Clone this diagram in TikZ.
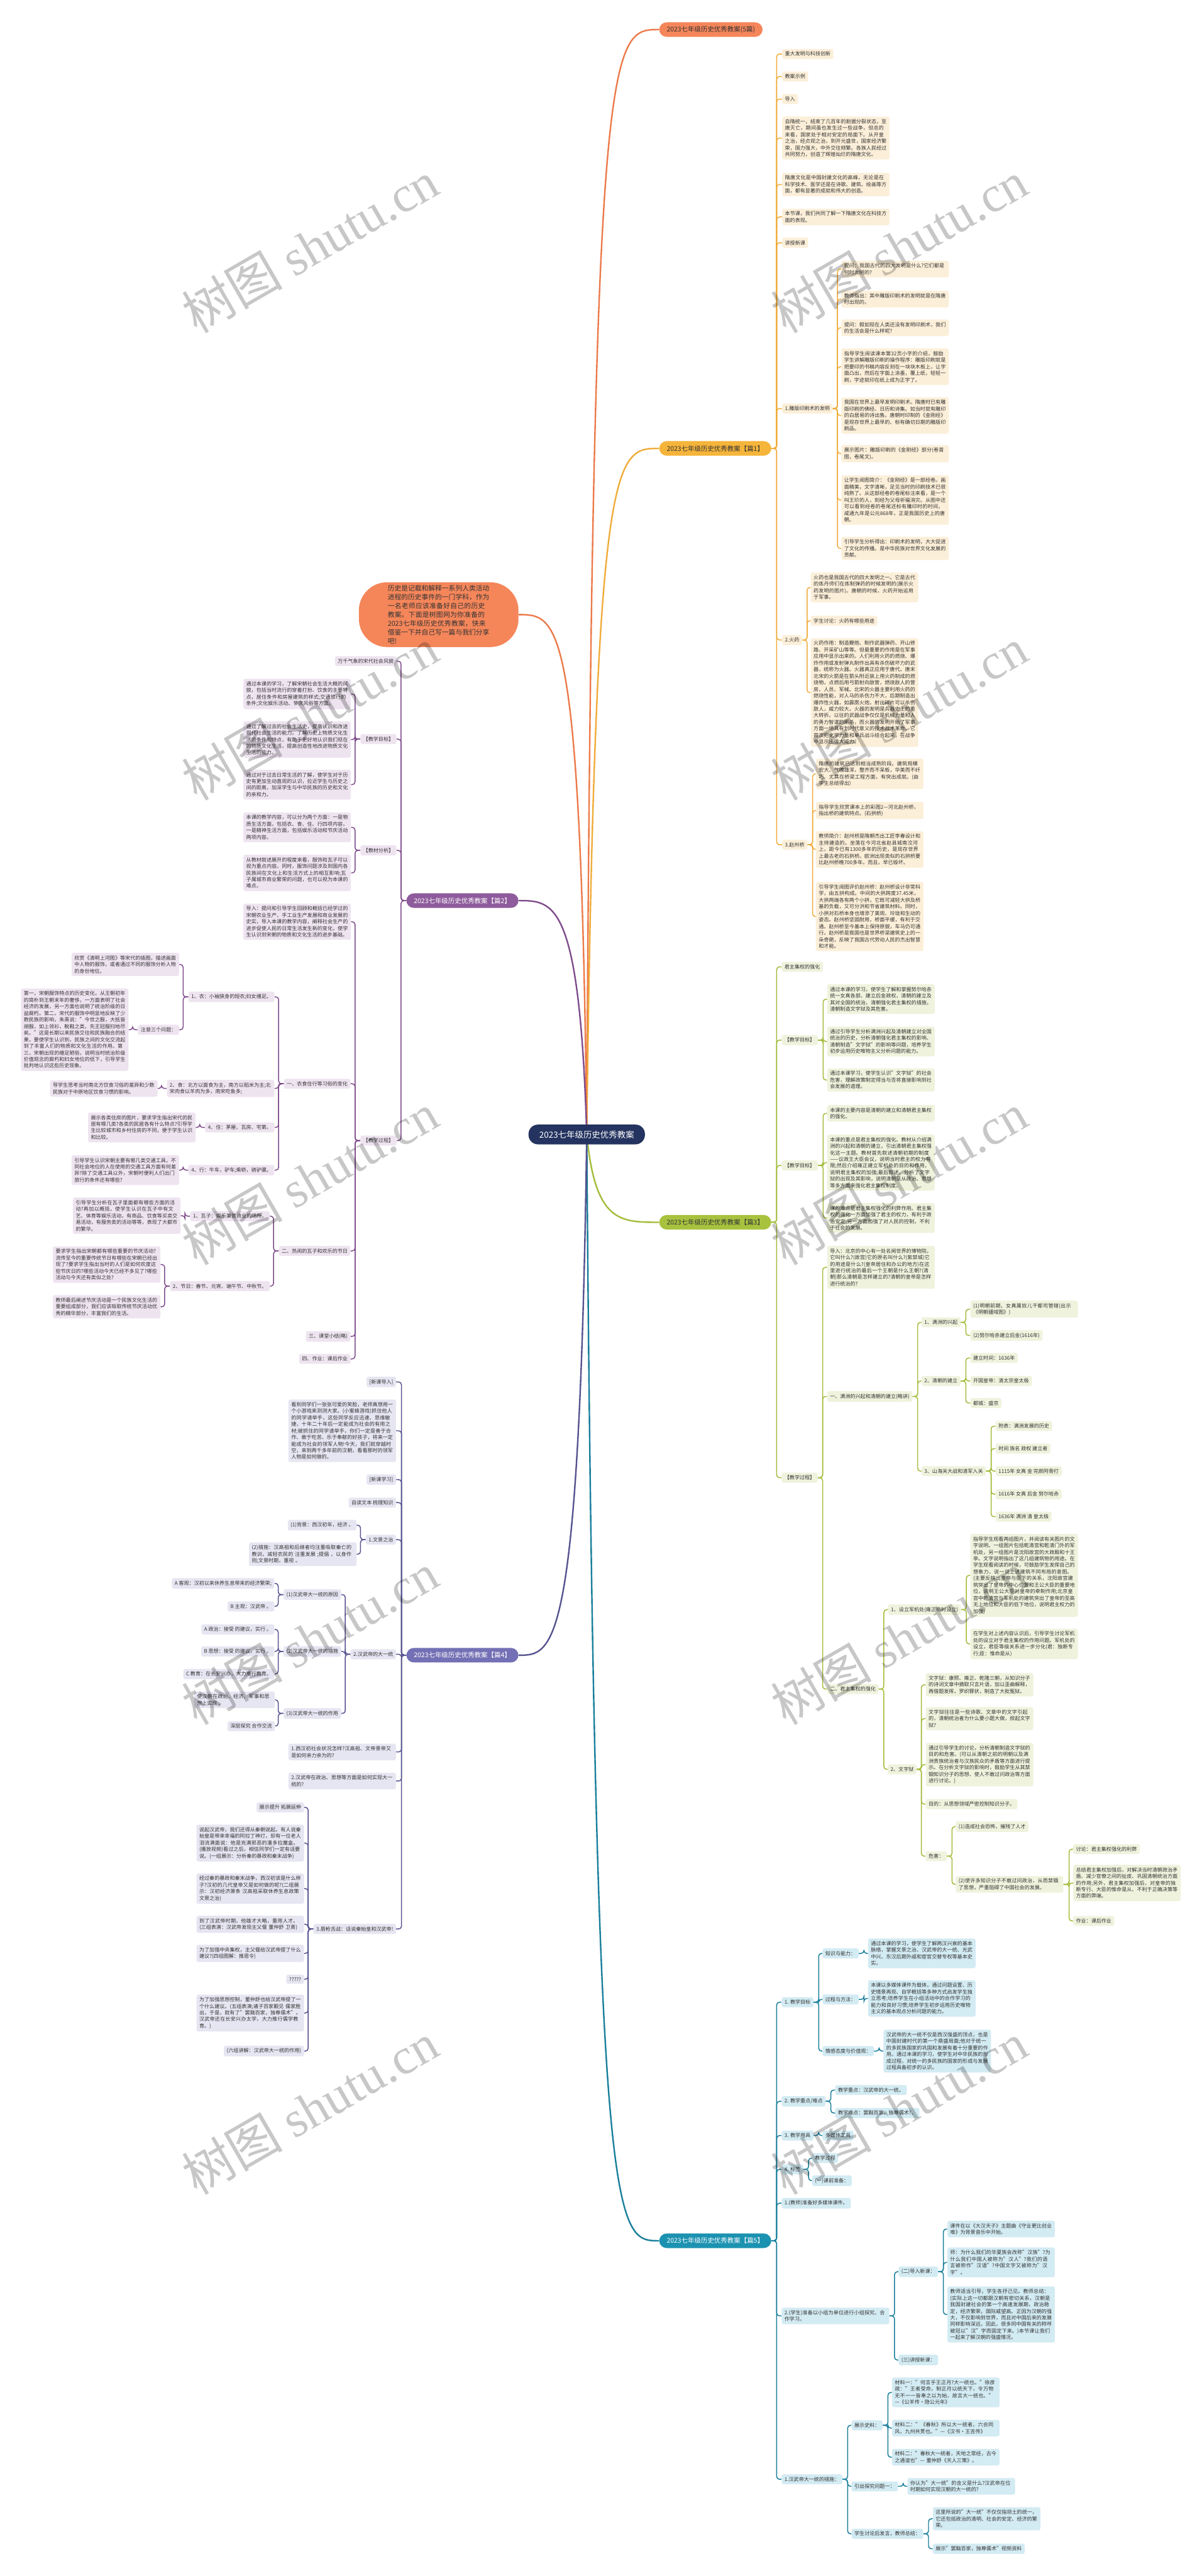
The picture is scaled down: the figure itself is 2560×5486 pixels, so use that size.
\documentclass[tikz,border=0pt]{standalone}
\usepackage{fontspec}
\setmainfont{Noto Sans CJK SC}
\newfontfamily\wmfont{Liberation Serif}
\XeTeXlinebreaklocale "zh"
\XeTeXlinebreakskip=0pt plus 0.6pt
\definecolor{txt}{HTML}{333333}
\definecolor{rootc}{HTML}{24335F}
\definecolor{coralF}{HTML}{F5865A}
\definecolor{coralL}{HTML}{EC7A4A}
\definecolor{goldF}{HTML}{F5B43A}
\definecolor{goldL}{HTML}{F0AC3A}
\definecolor{goldB}{HTML}{FCEFD9}
\definecolor{purF}{HTML}{8E5B9C}
\definecolor{purL}{HTML}{7E4C8B}
\definecolor{purB}{HTML}{EEE4F0}
\definecolor{limF}{HTML}{A8C23E}
\definecolor{limL}{HTML}{A2BC3A}
\definecolor{limB}{HTML}{EFF3DD}
\definecolor{slaF}{HTML}{7470B5}
\definecolor{slaL}{HTML}{57538F}
\definecolor{slaB}{HTML}{E6E5F2}
\definecolor{teaF}{HTML}{1C92B1}
\definecolor{teaL}{HTML}{197F9B}
\definecolor{teaB}{HTML}{D3EBF3}
\pgfdeclarelayer{back}
\pgfdeclarelayer{links}
\pgfsetlayers{back,links,main}
\newcommand\linkR[4][11]{\draw[#2] (#3.east) -- ++(#1,0) |- (#4.west);}
\newcommand\linkL[4][11]{\draw[#2] (#3.west) -- ++(-#1,0) |- (#4.east);}
\tikzset{
  bx/.style={inner xsep=3pt, inner ysep=2.8pt, rounded corners=2pt, font=\fontsize{5.4pt}{7pt}\selectfont, text=txt, align=left},
  tw/.style={text width=#1},
  tw/.default=108.5pt,
  gb/.style={bx, fill=goldB}, pb/.style={bx, fill=purB}, lb/.style={bx, fill=limB},
  sb/.style={bx, fill=slaB}, tb/.style={bx, fill=teaB},
  rn/.style={anchor=west}, ln/.style={anchor=east},
  pill/.style={rounded corners=8pt, minimum height=15.5pt, inner xsep=8pt, font=\fontsize{7pt}{8pt}\selectfont, text=txt},
  gl/.style={draw=goldL, line width=1pt, rounded corners=3pt},
  pl/.style={draw=purL, line width=1pt, rounded corners=3pt},
  ll/.style={draw=limL, line width=1pt, rounded corners=3pt},
  sl/.style={draw=slaL, line width=1pt, rounded corners=3pt},
  tl/.style={draw=teaL, line width=1pt, rounded corners=3pt},
  wm/.style={rotate=30, text=black, text opacity=0.22, font=\fontsize{54pt}{54pt}\selectfont},
}
\begin{document}
\begin{tikzpicture}[x=0.5pt,y=-0.5pt]
\begin{pgfonlayer}{back}
\fill[white] (0,0) rectangle (2560,5486);
\end{pgfonlayer}
\useasboundingbox (0,0) rectangle (2560,5486);
% ---------------- root ----------------
\node[fill=rootc, text=white, rounded corners=10pt, minimum height=21pt, minimum width=124pt, font=\fontsize{9pt}{10pt}\selectfont] (root) at (1250,2416) {2023七年级历史优秀教案};
% ---------------- 5 pian title ----------------
\node[pill, fill=coralF, rn] (p0) at (1404,63) {2023七年级历史优秀教案(5篇)};
% ---------------- intro ----------------
\node[ln, fill=coralF, rounded corners=30pt, minimum height=62pt, minimum width=170pt, text width=108.5pt, align=left, font=\fontsize{7.2pt}{9.3pt}\selectfont, text=txt] (intro) at (1105,1309) {历史是记载和解释一系列人类活动进程的历史事件的一门学科，作为一名老师应该准备好自己的历史教案。下面是树图网为你准备的2023七年级历史优秀教案，快来借鉴一下并自己写一篇与我们分享吧!};
% ================= pian 1 (gold) =================
\node[pill, fill=goldF, rn] (p1) at (1404,955) {2023七年级历史优秀教案【篇1】};
\node[gb,rn] (a1) at (1666,115) {重大发明与科技创新};
\node[gb,rn] (a2) at (1666,163) {教案示例};
\node[gb,rn] (a3) at (1666,211) {导入};
\node[gb,rn,tw] (a4) at (1666,294) {自隋统一，结束了几百年的割据分裂状态，至唐灭亡，期间虽也发生过一些战争，但总的来看，国家处于相对安定的局面下。从开皇之治，经贞观之治，到开元盛世，国家经济繁荣，国力强大，中外交往频繁。各族人民经过共同努力，创造了辉煌灿烂的隋唐文化。};
\node[gb,rn,tw] (a5) at (1666,393) {隋唐文化是中国封建文化的高峰，无论是在科学技术、医学还是在诗歌、建筑、绘画等方面，都有显著的成就和伟大的创造。};
\node[gb,rn,tw] (a6) at (1666,462) {本节课，我们共同了解一下隋唐文化在科技方面的表现。};
\node[gb,rn] (a7) at (1666,517) {讲授新课};
\node[gb,rn] (a8) at (1666,870) {1.雕版印刷术的发明};
\node[gb,rn,tw] (b1) at (1792,573) {提问：我国古代的四大发明是什么?它们都是何时发明的?};
\node[gb,rn,tw] (b2) at (1792,637) {教师指出：其中雕版印刷术的发明就是在隋唐时出现的。};
\node[gb,rn,tw] (b3) at (1792,698) {提问：假如现在人类还没有发明印刷术，我们的生活会是什么样呢?};
\node[gb,rn,tw] (b4) at (1792,781) {指导学生阅读课本第32页小字的介绍，鼓励学生讲解雕版印刷的操作程序：雕版印刷就是把要印的书稿内容反刻在一块块木板上，让字面凸出，然后在字面上涂墨，覆上纸，轻轻一刷，字迹就印在纸上成为正字了。};
\node[gb,rn,tw] (b5) at (1792,885) {我国在世界上最早发明印刷术。隋唐时已有雕版印刷的佛经、日历和诗集。如当时就有雕印的白居易的诗出售。唐朝时印制的《金刚经》是现存世界上最早的、标有确切日期的雕版印刷品。};
\node[gb,rn,tw] (b6) at (1792,966) {展示图片：雕版印刷的《金刚经》部分(卷首图，卷尾文)。};
\node[gb,rn,tw] (b7) at (1792,1065) {让学生阅图简介：《金刚经》是一部经卷。画面精美，文字清晰，足见当时的印刷技术已很纯熟了。从这部经卷的卷尾标注来看，是一个叫王玠的人，刻经为父母祈福消灾。从图中还可以看到经卷的卷尾还标有雕印时的时间，咸通九年是公元868年，正是我国历史上的唐朝。};
\node[gb,rn,tw] (b8) at (1792,1168) {引导学生分析得出：印刷术的发明，大大促进了文化的传播。是中华民族对世界文化发展的贡献。};
\node[gb,rn] (a9) at (1666,1363) {2.火药};
\node[gb,rn,tw] (c1) at (1727,1251) {火药也是我国古代的四大发明之一。它是古代的炼丹师们在炼制弹药的时候发明的(展示火药发明的图片)。唐朝的时候，火药开始运用于军事。};
\node[gb,rn] (c2) at (1727,1322) {学生讨论：火药有哪些用途};
\node[gb,rn,tw] (c3) at (1727,1475) {火药作用：制造鞭炮、制作武器弹药、开山修路、开采矿山等等。但最重要的作用是在军事应用中显示出来的。人们利用火药的燃烧、爆炸作用或发射弹丸制作出具有杀伤破坏力的武器，统称为火器。火器真正应用于唐代。唐末北宋的火箭是在箭头附近装上用火药制成的燃烧物，点燃后用弓箭射向敌营，燃烧敌人的营房、人员、军械。北宋的火器主要利用火药的燃烧性能，对人马的杀伤力不大，后期制造出爆炸性火器，如霹雳火炮，射出碎片可以杀伤敌人，威力较大。火器的发明是兵器史上的重大转折。以往的武器战争仅仅是机械力量和人的勇力智谋的厮杀，而火器的发明开始了军事方面一场具有划时代意义的技术战术革命。它首次把化学力量和单兵战斗结合起来，在战争中显示出强大威力。};
\node[gb,rn] (a10) at (1666,1799) {3.赵州桥};
\node[gb,rn,tw] (d1) at (1738,1648) {隋唐的建筑已达到相当成熟阶段。建筑规模宏大、气魄雄浑，整齐而不呆板，华美而不纤巧。尤其在桥梁工程方面，有突出成就。(由学生总结得出)};
\node[gb,rn,tw] (d2) at (1738,1726) {指导学生欣赏课本上的彩图2—河北赵州桥，指出桥的建筑特点。(石拱桥)};
\node[gb,rn,tw] (d3) at (1738,1809) {教师简介：赵州桥是隋朝杰出工匠李春设计和主持建造的。坐落在今河北省赵县城南洨河上，距今已有1300多年的历史，是现存世界上最古老的石拱桥。欧洲出现类似的石拱桥要比赵州桥晚700多年。而且，早已毁坏。};
\node[gb,rn,tw] (d4) at (1738,1952) {引导学生阅图评价赵州桥：赵州桥设计非常科学，由五拱构成。中间的大拱跨度37.45米，大拱两端各有两个小拱，它既可减轻大拱及桥基的负载，又可分洪和节省建筑材料。同时，小拱对石桥本身也增添了美观、玲珑和生动的姿态。赵州桥坚固耐用，桥面平缓，有利于交通。赵州桥至今基本上保持原貌，车马仍可通行。赵州桥是我国也是世界桥梁建筑史上的一朵奇葩，反映了我国古代劳动人民的杰出智慧和才能。};
% ================= pian 3 (lime) =================
\node[pill, fill=limF, rn] (p3) at (1404,2603) {2023七年级历史优秀教案【篇3】};
\node[lb,rn] (e1) at (1665,2059) {君主集权的强化};
\node[lb,rn] (e2) at (1665,2215) {【教学目标】};
\node[lb,rn,tw] (e2a) at (1762,2128) {通过本课的学习，使学生了解和掌握努尔哈赤统一女真各部、建立后金政权，清朝的建立及其对全国的统治，清朝强化君主集权的措施，清朝制造文字狱及其危害。};
\node[lb,rn,tw] (e2b) at (1762,2218) {通过引导学生分析满洲兴起及清朝建立对全国统治的历史，分析清朝强化君主集权的影响、清朝制造"文字狱"的影响等问题，培养学生初步运用历史唯物主义分析问题的能力。};
\node[lb,rn,tw] (e2c) at (1762,2300) {通过本课学习，使学生认识"文字狱"的社会危害，理解政策制定得当与否将直接影响到社会发展的道理。};
\node[lb,rn] (e3) at (1665,2482) {【教学目标】};
\node[lb,rn,tw] (e3a) at (1762,2371) {本课的主要内容是清朝的建立和清朝君主集权的强化。};
\node[lb,rn,tw] (e3b) at (1762,2476) {本课的重点是君主集权的强化。教材从介绍满洲的兴起和清朝的建立，引出清朝君主集权强化这一主题。教材首先叙述清朝初期的制度——议政王大臣会议，说明当时君主的权力有限;然后介绍雍正建立军机处的目的和作用，说明君主集权的加强;最后叙述、分析了文字狱的出现及其影响，说明清朝是从政治、思想等多方面来强化君主集权制度。};
\node[lb,rn,tw] (e3c) at (1762,2594) {课的难点是君主集权强化的利弊作用。君主集权的强化一方面加强了君主的权力，有利于政治安定;另一方面加强了对人民的控制，不利于社会的发展。};
\node[lb,rn] (e4) at (1665,3147) {【教学过程】};
\node[lb,rn,tw] (f1) at (1762,2699) {导入：北京的中心有一处名闻世界的博物院，它叫什么?(故宫)它的原名叫什么?(紫禁城)它的用途是什么?(皇帝居住和办公的地方)在这里进行统治的最后一个王朝是什么王朝?(清朝)那么清朝是怎样建立的?清朝的皇帝是怎样进行统治的?};
\node[lb,rn] (f2) at (1762,2974) {一、满洲的兴起和清朝的建立(略讲)};
\node[lb,rn] (g1) at (1963,2816) {1、满洲的兴起};
\node[lb,rn,tw] (h1) at (2067,2788) {(1)明朝前期，女真属奴儿干都司管辖(出示《明朝疆域图》)};
\node[lb,rn] (h2) at (2067,2844) {(2)努尔哈赤建立后金(1616年)};
\node[lb,rn] (g2) at (1963,2941) {2、清朝的建立};
\node[lb,rn] (h3) at (2067,2892) {建立时间：1636年};
\node[lb,rn] (h4) at (2067,2941) {开国皇帝：清太宗皇太极};
\node[lb,rn] (h5) at (2067,2988) {都城：盛京};
\node[lb,rn] (g3) at (1963,3133) {3、山海关大战和清军入关};
\node[lb,rn] (h6) at (2121,3037) {附表：满洲发展的历史};
\node[lb,rn] (h7) at (2121,3085) {时间 族名 政权 建立者};
\node[lb,rn] (h8) at (2121,3133) {1115年 女真 金 完颜阿骨打};
\node[lb,rn] (h9) at (2121,3182) {1616年 女真 后金 努尔哈赤};
\node[lb,rn] (h10) at (2121,3230) {1636年 满洲 清 皇太极};
\node[lb,rn] (f3) at (1762,3597) {二、君主集权的强化};
\node[lb,rn] (g4) at (1892,3428) {1、设立军机处(雍正帝时设立)};
\node[lb,rn,tw] (h11) at (2067,3355) {指导学生观看两组图片，并阅读有关图片的文字说明。一组图片包括乾清宫和乾清门外的军机处，另一组图片是沈阳故宫的大政殿和十王亭。文字说明指出了这几组建筑物的用途。在学生观看阅读的时候，可鼓励学生发挥自己的想象力，说一说上述建筑不同布局的意图。(主要反映出皇帝与臣下的关系，沈阳故宫建筑突出了皇帝的中心位置和王公大臣的重要地位，说明王公大臣对皇帝的牵制作用;北京皇宫中乾清宫与军机处的建筑突出了皇帝的至高无上地位和大臣的低下地位，说明君主权力的加强)};
\node[lb,rn,tw] (h12) at (2067,3501) {在学生对上述内容认识后，引导学生讨论军机处的设立对于君主集权的作用问题。军机处的设立，君臣等级关系进一步分化(君：独断专行;臣：惟命是从)};
\node[lb,rn] (g5) at (1891,3768) {2、文字狱};
\node[lb,rn,tw] (h13) at (1972,3588) {文字狱：康熙、雍正、乾隆三朝，从知识分子的诗词文章中摘取只言片语，加以歪曲解释，再借题发挥，罗织罪状，制造了大批冤狱。};
\node[lb,rn,tw] (h14) at (1972,3660) {文字狱往往是一些诗歌、文章中的文字引起的，清朝统治者为什么要小题大做，掀起文字狱?};
\node[lb,rn,tw] (h15) at (1972,3758) {通过引导学生的讨论，分析清朝制造文字狱的目的和危害。(可以从清朝之前的明朝以及满洲贵族统治者与汉族民众的矛盾等方面进行提示。在分析文字狱的影响时，鼓励学生从其禁锢知识分子的思想、使人不敢过问政治等方面进行讨论。)};
\node[lb,rn] (h16) at (1972,3842) {目的：从思想领域严密控制知识分子。};
\node[lb,rn] (h17) at (1972,3953) {危害：};
\node[lb,rn] (h18) at (2036,3890) {(1)造成社会恐怖，摧残了人才};
\node[lb,rn,tw] (h19) at (2036,4013) {(2)使许多知识分子不敢过问政治，从而禁锢了思想，严重阻碍了中国社会的发展。};
\node[lb,rn] (h20) at (2286,3938) {讨论：君主集权强化的利弊};
\node[lb,rn,tw] (h21) at (2286,4010) {总结君主集权加强后，对解决当时清朝政治矛盾、减少官僚之间的扯皮、巩固清朝统治方面的作用;另外，君主集权加强后，对皇帝的独断专行、大臣的惟命是从、不利于正确决策等方面的弊端。};
\node[lb,rn] (h22) at (2286,4091) {作业：课后作业};
% ================= pian 5 (teal) =================
\node[pill, fill=teaF, text=white, rn] (p5) at (1404,4772) {2023七年级历史优秀教案【篇5】};
\node[tb,rn] (i1) at (1665,4264) {1. 教学目标};
\node[tb,rn] (i1a) at (1752,4160) {知识与能力：};
\node[tb,rn,tw] (i1b) at (1849,4160) {通过本课的学习，使学生了解两汉兴衰的基本脉络，掌握文景之治、汉武帝的大一统、光武中兴、东汉后期外戚和宦官交替专权等基本史实。};
\node[tb,rn] (i1c) at (1752,4258) {过程与方法：};
\node[tb,rn,tw] (i1d) at (1849,4256) {本课以多媒体课件为载体，通过问题设置、历史情景再现、自学概括等多种方式启发学生独立思考;培养学生在小组活动中的合作学习的能力和良好习惯;培养学生初步运用历史唯物主义的基本观点分析问题的能力。};
\node[tb,rn] (i1e) at (1752,4368) {情感态度与价值观：};
\node[tb,rn,tw] (i1f) at (1882,4368) {汉武帝的大一统不仅是西汉强盛的顶点，也是中国封建时代的第一个鼎盛局面;他对于统一的多民族国家的巩固和发展有着十分重要的作用。通过本课的学习，使学生对中华民族的形成过程，对统一的多民族的国家的形成与发展过程具备初步的认识。};
\node[tb,rn] (i2) at (1665,4475) {2. 教学重点/难点};
\node[tb,rn] (i2a) at (1779,4451) {教学重点：汉武帝的大一统。};
\node[tb,rn] (i2b) at (1779,4500) {教学难点：罢黜百家，独尊儒术?。};
\node[tb,rn] (i3) at (1665,4548) {3. 教学用具};
\node[tb,rn] (i3a) at (1752,4548) {多媒体工具};
\node[tb,rn] (i4) at (1665,4620) {4. 标签};
\node[tb,rn] (i4a) at (1730,4596) {教学过程};
\node[tb,rn] (i4b) at (1730,4644) {(一)课前准备：};
\node[tb,rn] (i5) at (1665,4692) {1.(教师)准备好多媒体课件。};
\node[tb,rn,tw] (i6) at (1665,4932) {2.(学生)准备以小组为单位进行小组探究、合作学习。};
\node[tb,rn] (i6a) at (1914,4838) {(二)导入新课：};
\node[tb,rn,tw] (i6b) at (2018,4747) {课件在以《大汉天子》主题曲《守业更比创业难》为背景音乐中开始。};
\node[tb,rn,tw] (i6c) at (2018,4818) {师：为什么我们的华夏族会改称"汉族"?为什么我们中国人被称为"汉人"?我们的语言被称作"汉语"?中国文字又被称为"汉字"。};
\node[tb,rn,tw] (i6d) at (2018,4929) {教师适当引导，学生各抒己见。教师总结：(实际上这一切都跟汉朝有密切关系，汉朝是我国封建社会的第一个高速发展期，政治稳定，经济繁荣，国际威望高。正因为汉朝的强大，不仅影响到世界，而且对中国后来的发展同样影响深远，因此，很多同中国有关的称呼被冠以"汉"字而固定下来。)本节课让我们一起来了解汉朝的强盛情况。};
\node[tb,rn] (i6e) at (1914,5026) {(三)讲授新课：};
\node[tb,rn] (i7) at (1665,5280) {1.汉武帝大一统的措施：};
\node[tb,rn] (i7a) at (1814,5165) {展示史料：};
\node[tb,rn,tw] (i7b) at (1900,5095) {材料一："何言乎王正月?大一统也。"徐彦疏："王者受命，制正月以统天下，令万物无不一一皆奉之以为始，故言大一统也。"—《公羊传·隐公元年》};
\node[tb,rn,tw] (i7c) at (1900,5171) {材料二："《春秋》所以大一统者，六合同风，九州共贯也。"—《汉书·王吉传》};
\node[tb,rn,tw] (i7d) at (1900,5233) {材料二："春秋大一统者，天地之常经，古今之通谊也"— 董仲舒《天人三策》。};
\node[tb,rn] (i7e) at (1814,5295) {引出探究问题一：};
\node[tb,rn,tw] (i7f) at (1933,5295) {你认为"大一统"的含义是什么?汉武帝在位时期如何实现汉朝的大一统的?};
\node[tb,rn] (i7g) at (1814,5396) {学生讨论后发言，教师总结：};
\node[tb,rn,tw] (i7h) at (1987,5364) {这里所说的"大一统"不仅仅指领土的统一，它还包括政治的清明、社会的安定、经济的繁荣。};
\node[tb,rn] (i7i) at (1987,5428) {展示"罢黜百家，独尊儒术"视频资料};
% ================= pian 2 (purple, left) =================
\node[pill, fill=purF, text=white, ln] (p2) at (1105,1918) {2023七年级历史优秀教案【篇2】};
\node[pb,ln] (j1) at (845,1408) {万千气象的宋代社会风貌};
\node[pb,ln] (j2) at (845,1574) {【教学目标】};
\node[pb,ln,tw] (j2a) at (748,1478) {通过本课的学习，了解宋朝社会生活大概的风貌，包括当时流行的穿着打扮、饮食的主要特点，居住条件和房屋建筑的样式;交通旅行的条件;文化娱乐活动、节庆风俗等方面。};
\node[pb,ln,tw] (j2b) at (748,1575) {通过了解过去的社会生活史，提高认识和改进现代社会生活的能力。了解历史上物质文化生活的条件和特点，有助于更好地认识我们现在的物质文化生活，提高创造性地改进物质文化生活的能力。};
\node[pb,ln,tw] (j2c) at (748,1671) {通过对于过去日常生活的了解，使学生对于历史有更加生动直观的认识，拉近学生与历史之间的距离，加深学生与中华民族的历史和文化的亲和力。};
\node[pb,ln] (j3) at (845,1811) {【教材分析】};
\node[pb,ln,tw] (j3a) at (748,1762) {本课的教学内容，可以分为两个方面：一是物质生活方面，包括衣、食、住、行四项内容，一是精神生活方面，包括娱乐活动和节庆活动两项内容。};
\node[pb,ln,tw] (j3b) at (748,1859) {从教材叙述展开的程度来看，服饰和瓦子可以视为重点内容。同时，服饰问题涉及到国内各民族间在文化上和生活方式上的相互影响;瓦子属城市商业繁荣的问题，也可以视为本课的难点。};
\node[pb,ln] (j5) at (845,2429) {【教学过程】};
\node[pb,ln,tw] (k0) at (748,1963) {导入：提问和引导学生回顾和概括已经学过的宋朝农业生产、手工业生产发展和商业发展的史实，导入本课的教学内容，阐释社会生产的进步促使人民的日常生活发生新的变化，使学生认识到宋朝的物质和文化生活的进步基础。};
\node[pb,ln] (k1) at (747,2308) {一、衣食住行等习俗的变化};
\node[pb,ln] (l1) at (585,2123) {1、衣：小袖狭身的短衣;妇女缠足。};
\node[pb,ln,tw] (l1a) at (382,2054) {欣赏《清明上河图》等宋代的插图，描述画面中人物的服饰，或者通过不同的服饰分析人物的身份地位。};
\node[pb,ln] (l1b) at (382,2193) {注意三个问题：};
\node[pb,ln,tw] (l1c) at (274,2193) {第一，宋朝服饰特点的历史变化，从王朝初年的简朴到王朝末年的奢侈，一方面表明了社会经济的发展，另一方面也说明了统治阶级的日益腐朽。第二，宋代的服饰中明显地反映了少数民族的影响，朱熹说："今世之服，大抵皆胡服，如上领衫，靴鞋之类，先王冠服扫地尽矣。"这是长期以来民族交往和民族融合的结果，要使学生认识到，民族之间的文化交流起到了丰富人们的物质和文化生活的作用。第三，宋朝出现的缠足陋俗，说明当时统治阶级价值观念的腐朽和妇女地位的低下，引导学生批判地认识这些历史现象。};
\node[pb,ln,tw] (l2) at (585,2318) {2、食：北方以面食为主，南方以稻米为主;北宋肉食以羊肉为多，南宋吃鱼多;};
\node[pb,ln,tw] (l2a) at (336,2318) {导学生思考当时南北方饮食习俗的差异和少数民族对于中原地区饮食习惯的影响。};
\node[pb,ln] (l3) at (585,2401) {4、住：茅屋、瓦房、宅第。};
\node[pb,ln,tw] (l3a) at (417,2401) {展示各类住房的图片，要求学生指出宋代的民居有哪几类?各类的民居各有什么特点?引导学生比较城市和乡村住房的不同，便于学生认识和比较。};
\node[pb,ln] (l4) at (585,2492) {4、行：牛车，驴车;乘轿，骑驴骡。};
\node[pb,ln,tw] (l4a) at (382,2492) {引导学生认识宋朝主要有哪几类交通工具，不同社会地位的人在使用的交通工具方面有何差异?除了交通工具以外，宋朝时便利人们出门旅行的条件还有哪些?};
\node[pb,ln] (k2) at (747,2664) {二、热闹的瓦子和欢乐的节日};
\node[pb,ln] (l5) at (575,2590) {1、瓦子：娱乐兼营商业的场所。};
\node[pb,ln,tw] (l5a) at (385,2589) {引导学生分析在瓦子里面都有哪些方面的活动?再加以概括，使学生认识在瓦子中有文艺、体育等娱乐活动，有商品、饮食等买卖交易活动，有服务类的活动等等，表现了大都市的繁华。};
\node[pb,ln] (l6) at (575,2739) {2、节日：春节、元宵、端午节、中秋节。};
\node[pb,ln,tw] (l6a) at (342,2693) {要求学生指出宋朝都有哪些重要的节庆活动?流传至今的重要传统节日有哪些在宋朝已经出现了?要求学生指出当时的人们是如何欢度这些节庆日的?哪些活动今天已经不多见了?哪些活动与今天还有类似之处?};
\node[pb,ln,tw] (l6b) at (342,2783) {教师最后阐述节庆活动是一个民族文化生活的重要组成部分，我们应该吸取传统节庆活动优秀的精华部分，丰富我们的生活。};
\node[pb,ln] (k3) at (747,2846) {三、课堂小结(略)};
\node[pb,ln] (k4) at (747,2894) {四、作业：课后作业};
% ================= pian 4 (slate, left) =================
\node[pill, fill=slaF, text=white, ln] (p4) at (1105,3525) {2023七年级历史优秀教案【篇4】};
\node[sb,ln] (m1) at (844,2943) {[新课导入]};
\node[sb,ln,tw] (m2) at (844,3047) {看到同学们一张张可爱的笑脸，老师真想用一个小游戏来测测大家。(小蜜蜂游戏)抓住他人的同学请举手，这些同学反应迅速、思维敏捷，十年二十年后一定能成为社会的有用之材;被抓住的同学请举手，你们一定是善于合作、敢于吃苦、乐于奉献的好孩子，将来一定能成为社会的领军人物!今天，我们就穿越时空，来到两千多年前的汉朝，看看那时的领军人物是如何做的。};
\node[sb,ln] (m3) at (844,3151) {[新课学习]};
\node[sb,ln] (m4) at (844,3200) {自读文本 梳理知识};
\node[sb,ln] (m5) at (844,3279) {1.文景之治};
\node[sb,ln] (m5a) at (760,3248) {(1)背景：西汉初年，经济 。};
\node[sb,ln,tw] (m5b) at (760,3310) {(2)措施：汉高祖和后继者均注重吸取秦亡的教训，减轻农民的 注重发展 ;提倡 ，以身作则;文景时期，重视 。};
\node[sb,ln] (m6) at (844,3523) {2.汉武帝的大一统};
\node[sb,ln] (n1) at (727,3396) {(1)汉武帝大一统的原因};
\node[sb,ln] (n1a) at (585,3372) {A 客观：汉初以来休养生息带来的经济繁荣;};
\node[sb,ln] (n1b) at (585,3421) {B 主观：汉武帝 。};
\node[sb,ln] (n2) at (727,3517) {(2)汉武帝大一统的措施};
\node[sb,ln] (n2a) at (585,3470) {A 政治：接受 的建议，实行 。};
\node[sb,ln] (n2b) at (585,3517) {B 思想：接受 的建议，实行 。};
\node[sb,ln] (n2c) at (585,3565) {C 教育：在长安兴办，大力推行教育。};
\node[sb,ln] (n3) at (727,3649) {(3)汉武帝大一统的作用};
\node[sb,ln,tw=80pt] (n3a) at (586,3620) {使汉朝在政治、经济、军事和思想上实现 。};
\node[sb,ln] (n3b) at (586,3676) {深层探究 合作交流};
\node[sb,ln,tw] (m7) at (844,3731) {1.西汉初社会状况怎样?汉高祖、文帝景帝又是如何亲力亲为的?};
\node[sb,ln,tw] (m8) at (844,3793) {2.汉武帝在政治、思想等方面是如何实现大一统的?};
\node[sb,ln] (m9) at (844,4108) {3.唇枪舌战：话说秦始皇和汉武帝!};
\node[sb,ln] (q1) at (648,3849) {展示提升 拓展延伸};
\node[sb,ln,tw] (q2) at (648,3925) {说起汉武帝，我们还得从秦朝说起。有人说秦始皇是带来幸福的阿拉丁神灯，却有一位老人泪流满面说：他是充满邪恶的潘多拉魔盒。(播放视频)看过之后，相信同学们一定有话要说。(一组展示：分析秦的暴政和秦末战争)};
\node[sb,ln,tw] (q3) at (648,4022) {经过秦的暴政和秦末战争，西汉初该是什么样子?汉初的几代皇帝又是如何做的呢?(二组展示：汉初经济萧条 汉高祖采取休养生息政策 文景之治)};
\node[sb,ln,tw] (q4) at (648,4098) {到了汉武帝时期，他雄才大略，重用人才。(三组表演：汉武帝发现主父偃 董仲舒 卫青)};
\node[sb,ln,tw] (q5) at (648,4160) {为了加强中央集权，主父偃给汉武帝提了什么建议?(四组图解：推恩令)};
\node[sb,ln] (q6) at (648,4215) {?????};
\node[sb,ln,tw] (q7) at (648,4287) {为了加强思想控制，董仲舒也给汉武帝提了一个什么建议。(五组表演;诸子百家觐见 儒家胜出，于是，就有了"罢黜百家，独尊儒术"。汉武帝还在长安兴办太学，大力推行儒学教育。)};
\node[sb,ln] (q8) at (648,4368) {(六组讲解：汉武帝大一统的作用)};
% ================= links =================
\begin{pgfonlayer}{links}
\draw[coralL, line width=1.6pt] (root.center) .. controls (1262,63) and (1300,63) .. (p0.west);
\draw[goldL, line width=1.6pt] (root.center) .. controls (1268,955) and (1310,955) .. (p1.west);
\draw[limL, line width=1.6pt] (root.center) .. controls (1268,2603) and (1320,2603) .. (p3.west);
\draw[teaL, line width=1.6pt] (root.center) .. controls (1268,4772) and (1310,4772) .. (p5.west);
\draw[coralL, line width=1.6pt] (root.center) .. controls (1238,1309) and (1190,1309) .. (intro.east);
\draw[purL, line width=1.6pt] (root.center) .. controls (1235,1918) and (1180,1918) .. (p2.east);
\draw[slaL, line width=1.6pt] (root.center) .. controls (1235,3525) and (1180,3525) .. (p4.east);
% pian 1
\foreach \c in {a1,a2,a3,a4,a5,a6,a7,a8,a9,a10} {\linkR{gl}{p1}{\c}}
\foreach \c in {b1,b2,b3,b4,b5,b6,b7,b8} {\linkR[10]{gl}{a8}{\c}}
\foreach \c in {c1,c2,c3} {\linkR[10]{gl}{a9}{\c}}
\foreach \c in {d1,d2,d3,d4} {\linkR[11]{gl}{a10}{\c}}
% pian 3
\foreach \c in {e1,e2,e3,e4} {\linkR{ll}{p3}{\c}}
\foreach \c in {e2a,e2b,e2c} {\linkR{ll}{e2}{\c}}
\foreach \c in {e3a,e3b,e3c} {\linkR{ll}{e3}{\c}}
\foreach \c in {f1,f2,f3} {\linkR[10]{ll}{e4}{\c}}
\foreach \c in {g1,g2,g3} {\linkR{ll}{f2}{\c}}
\foreach \c in {h1,h2} {\linkR{ll}{g1}{\c}}
\foreach \c in {h3,h4,h5} {\linkR{ll}{g2}{\c}}
\foreach \c in {h6,h7,h8,h9,h10} {\linkR{ll}{g3}{\c}}
\foreach \c in {g4,g5} {\linkR{ll}{f3}{\c}}
\foreach \c in {h11,h12} {\linkR{ll}{g4}{\c}}
\foreach \c in {h13,h14,h15,h16,h17} {\linkR[10]{ll}{g5}{\c}}
\foreach \c in {h18,h19} {\linkR{ll}{h17}{\c}}
\foreach \c in {h20,h21,h22} {\linkR[12]{ll}{h19}{\c}}
% pian 5
\foreach \c in {i1,i2,i3,i4,i5,i6,i7} {\linkR{tl}{p5}{\c}}
\foreach \c in {i1a,i1c,i1e} {\linkR{tl}{i1}{\c}}
\linkR{tl}{i1a}{i1b}
\linkR{tl}{i1c}{i1d}
\linkR{tl}{i1e}{i1f}
\foreach \c in {i2a,i2b} {\linkR{tl}{i2}{\c}}
\linkR{tl}{i3}{i3a}
\foreach \c in {i4a,i4b} {\linkR{tl}{i4}{\c}}
\foreach \c in {i6a,i6e} {\linkR{tl}{i6}{\c}}
\foreach \c in {i6b,i6c,i6d} {\linkR{tl}{i6a}{\c}}
\foreach \c in {i7a,i7e,i7g} {\linkR{tl}{i7}{\c}}
\foreach \c in {i7b,i7c,i7d} {\linkR{tl}{i7a}{\c}}
\linkR{tl}{i7e}{i7f}
\foreach \c in {i7h,i7i} {\linkR{tl}{i7g}{\c}}
% pian 2
\foreach \c in {j1,j2,j3,j5} {\linkL{pl}{p2}{\c}}
\foreach \c in {j2a,j2b,j2c} {\linkL{pl}{j2}{\c}}
\foreach \c in {j3a,j3b} {\linkL{pl}{j3}{\c}}
\foreach \c in {k0,k1,k2,k3,k4} {\linkL{pl}{j5}{\c}}
\foreach \c in {l1,l2,l3,l4} {\linkL{pl}{k1}{\c}}
\foreach \c in {l1a,l1b} {\linkL{pl}{l1}{\c}}
\linkL{pl}{l1b}{l1c}
\linkL{pl}{l2}{l2a}
\linkL{pl}{l3}{l3a}
\linkL{pl}{l4}{l4a}
\foreach \c in {l5,l6} {\linkL{pl}{k2}{\c}}
\linkL{pl}{l5}{l5a}
\foreach \c in {l6a,l6b} {\linkL{pl}{l6}{\c}}
% pian 4
\foreach \c in {m1,m2,m3,m4,m5,m6,m7,m8,m9} {\linkL[10]{sl}{p4}{\c}}
\foreach \c in {m5a,m5b} {\linkL{sl}{m5}{\c}}
\foreach \c in {n1,n2,n3} {\linkL{sl}{m6}{\c}}
\foreach \c in {n1a,n1b} {\linkL{sl}{n1}{\c}}
\foreach \c in {n2a,n2b,n2c} {\linkL{sl}{n2}{\c}}
\foreach \c in {n3a,n3b} {\linkL{sl}{n3}{\c}}
\foreach \c in {q1,q2,q3,q4,q5,q6,q7,q8} {\linkL{sl}{m9}{\c}}
\end{pgfonlayer}
% ================= watermark =================
\foreach \yy in {525,1520,2510,3490,4490} {
  \node[wm] at (660,\yy) {树图 {\wmfont shutu.cn}};
  \node[wm] at (1915,\yy) {树图 {\wmfont shutu.cn}};
}
\end{tikzpicture}
\end{document}
